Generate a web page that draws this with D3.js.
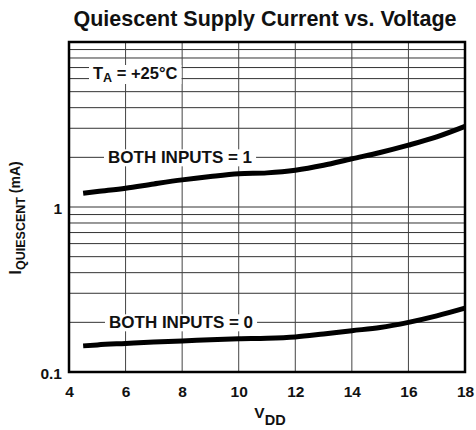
<!DOCTYPE html>
<html>
<head>
<meta charset="utf-8">
<script src="https://cdn.jsdelivr.net/npm/d3@7"></script>
<style>
  body { margin: 0; background: #fff; }
  text { font-family: "Liberation Sans", Arial, Helvetica, sans-serif; font-weight: bold; fill: #111; }
</style>
</head>
<body>
<div id="chart"></div>
<script>
// data
const vdd = [4.5, 5, 6, 7, 8, 9, 10, 11, 12, 13, 14, 15, 16, 17, 18];
const bothInputs1 = [1.21, 1.24, 1.30, 1.38, 1.46, 1.53, 1.59, 1.61, 1.67, 1.79, 1.96, 2.14, 2.37, 2.66, 3.08];
const bothInputs0 = [0.144, 0.146, 0.149, 0.152, 0.154, 0.157, 0.159, 0.160, 0.163, 0.170, 0.178, 0.186, 0.200, 0.219, 0.244];
const xTicks = [4, 6, 8, 10, 12, 14, 16, 18];
const yTicks = [0.1, 1];
const yGrid = [0.2, 0.3, 0.4, 0.5, 0.6, 0.7, 0.8, 0.9, 1, 2, 3, 4, 5, 6, 7, 8, 9];

const margin = { top: 42, right: 11, bottom: 58, left: 69 },
    width = 476 - margin.left - margin.right,
    height = 430 - margin.top - margin.bottom;

let svg = d3.select('#chart')
    .append('svg')
    .attr('width', 476)
    .attr('height', 430);

let group = svg.append('g')
    .attr('transform', 'translate(' + margin.left + ',' + margin.top + ')');

let xScale = d3.scaleLinear().domain([4, 18]).range([0, width]);
let yScale = d3.scaleLog().domain([0.1, 10]).range([height, 0]);

// grid
group.append('g')
    .selectAll('line.h')
    .data(yGrid)
    .join('line')
    .attr('x1', 0).attr('x2', width)
    .attr('y1', d => yScale(d)).attr('y2', d => yScale(d))
    .attr('stroke', '#333').attr('stroke-width', 1);

group.append('g')
    .selectAll('line.v')
    .data(xTicks.slice(1, -1))
    .join('line')
    .attr('x1', d => xScale(d)).attr('x2', d => xScale(d))
    .attr('y1', 0).attr('y2', height)
    .attr('stroke', '#444').attr('stroke-width', 1);

// curve labels with white backing
function label(x, y, parts) {
    let t = group.append('text').attr('x', x).attr('y', y);
    parts.forEach(p => {
        t.append('tspan')
            .attr('font-size', p.size)
            .attr('dy', p.dy || 0)
            .text(p.text);
    });
    let bb = t.node().getBBox();
    group.insert('rect', 'text')
        .attr('x', bb.x - 4).attr('y', bb.y + 1)
        .attr('width', bb.width + 8).attr('height', bb.height - 2)
        .attr('fill', '#fff');
    return t;
}

label(24, 37, [
    { text: 'T', size: 16.5 },
    { text: 'A', size: 12.5, dy: 3 },
    { text: ' = +25°C', size: 16.5, dy: -3 }
]);
label(39, yScale(2) + 6, [{ text: 'BOTH INPUTS = 1', size: 17 }]);
label(40, yScale(0.2) + 6, [{ text: 'BOTH INPUTS = 0', size: 17 }]);

// curves
const line = d3.line()
    .x(d => xScale(d[0]))
    .y(d => yScale(d[1]))
    .curve(d3.curveMonotoneX);

[bothInputs1, bothInputs0].forEach(s => {
    group.append('path')
        .datum(vdd.map((v, i) => [v, s[i]]))
        .attr('d', line)
        .attr('fill', 'none')
        .attr('stroke', '#000')
        .attr('stroke-width', 5);
});

// frame
group.append('rect')
    .attr('width', width).attr('height', height)
    .attr('fill', 'none').attr('stroke', '#000').attr('stroke-width', 2.5);

// axes
const xAxis = d3.axisBottom(xScale).tickValues(xTicks).tickSize(0).tickPadding(14);
const yAxis = d3.axisLeft(yScale).tickValues(yTicks).tickSize(0).tickPadding(7)
    .tickFormat(d => d === 1 ? '1' : '0.1');

let xDisplay = group.append('g')
    .attr('transform', `translate(0, ${height})`)
    .call(xAxis);
let yDisplay = group.append('g').call(yAxis);

[xDisplay, yDisplay].forEach(a => {
    a.select('.domain').remove();
    a.selectAll('text').attr('font-size', 15.5).attr('font-family', null).attr('fill', '#111');
});
yDisplay.selectAll('text').attr('dy', '0.45em');

// titles
svg.append('text')
    .attr('x', 265).attr('y', 26)
    .attr('text-anchor', 'middle')
    .attr('font-size', 21.5)
    .text('Quiescent Supply Current vs. Voltage');

let xt = svg.append('text')
    .attr('x', 270).attr('y', 418)
    .attr('text-anchor', 'middle');
xt.append('tspan').attr('font-size', 15.5).text('V');
xt.append('tspan').attr('font-size', 14.5).attr('dy', 7).text('DD');

let yt = svg.append('text')
    .attr('transform', 'translate(21, 218) rotate(-90)')
    .attr('text-anchor', 'middle');
yt.append('tspan').attr('font-size', 17).text('I');
yt.append('tspan').attr('font-size', 12.5).attr('dy', 4).text('QUIESCENT');
yt.append('tspan').attr('font-size', 14).attr('dy', -5).text(' (mA)');
</script>
</body>
</html>
